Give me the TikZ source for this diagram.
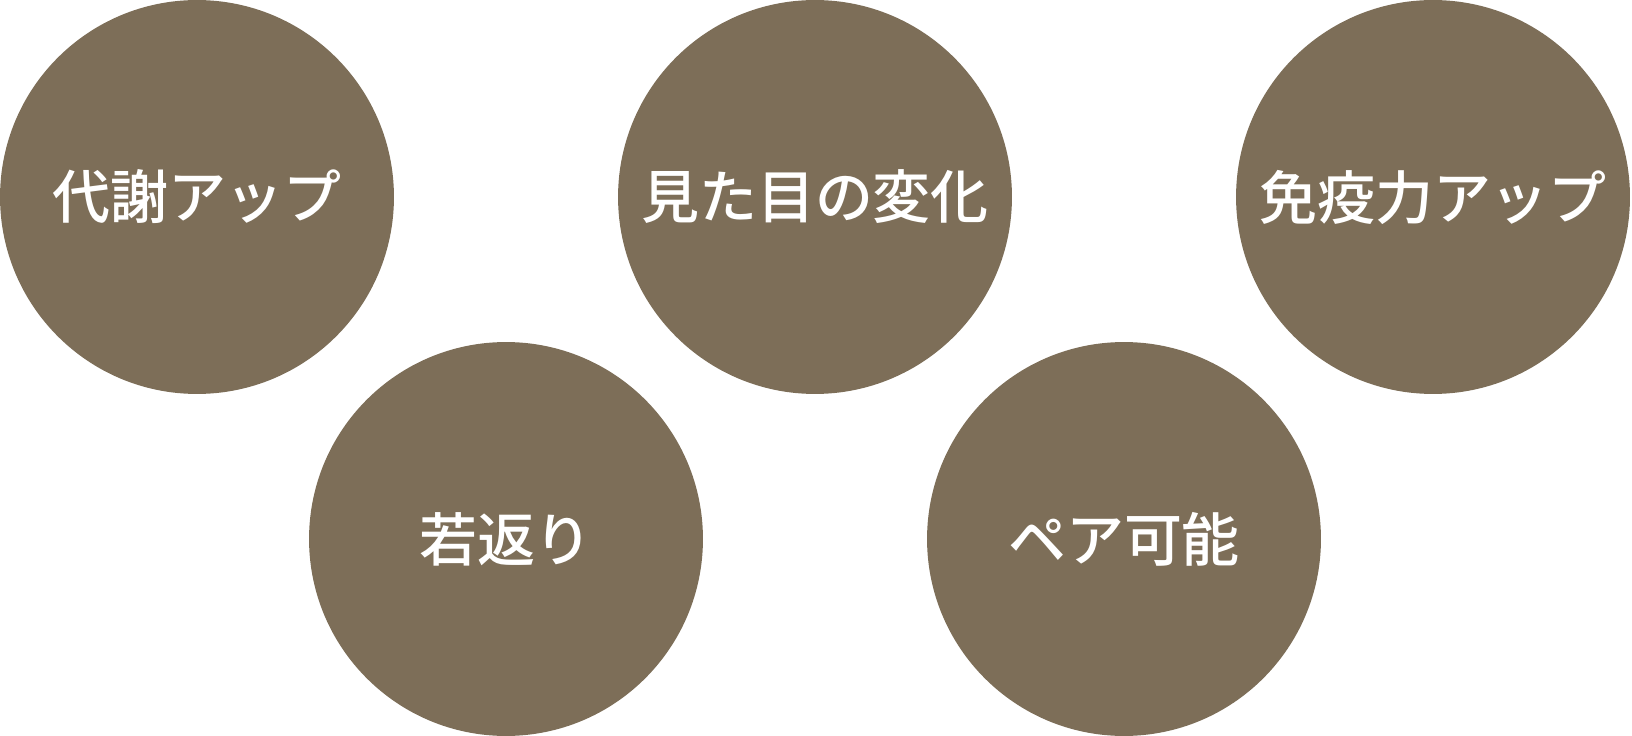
\documentclass[tikz,border=0pt]{standalone}
\usepackage{fontspec}
\setmainfont{Noto Sans CJK JP}[BoldFont={Noto Sans CJK JP Medium}]
\usetikzlibrary{positioning}
\definecolor{bubblebrown}{RGB}{125,110,88}

\begin{document}
\begin{tikzpicture}[x=0.02cm, y=-0.02cm,
  bubble/.style={circle, fill=bubblebrown, inner sep=0pt, minimum size=7.88cm,
    text=white, font=\fontsize{33}{33}\selectfont\bfseries}]
\useasboundingbox (0,0) rectangle (1632,736);

% Top row
\pgfmathsetmacro{\R}{197}
\pgfmathsetmacro{\dX}{618}
\node[bubble] (metab) at (\R, \R) {代謝アップ};
\node[bubble] (looks) at (\R+\dX, \R) {見た目の変化};
\node[bubble] (immune) at (\R+2*\dX, \R) {免疫力アップ};

% Bottom row, shifted half a step
\node[bubble] (young) at (\R+0.5*\dX, 736-\R) {若返り};
\node[bubble] (pair) at (\R+1.5*\dX, 736-\R) {ペア可能};
\end{tikzpicture}
\end{document}
